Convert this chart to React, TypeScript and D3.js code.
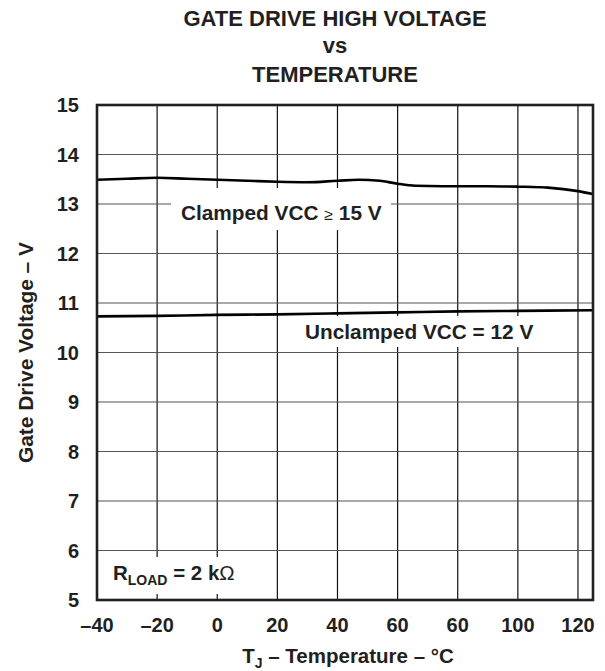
import * as d3 from "d3";
import React from "react";

// temperature (°C) and gate drive voltage (V)
const clampedTemp = [-40, -30, -20, -10, 0, 10, 20, 30, 40, 47, 54, 60, 66, 75, 90, 100, 110, 120, 125];
const clampedVolt = [13.49, 13.51, 13.53, 13.51, 13.49, 13.47, 13.45, 13.44, 13.47, 13.49, 13.47, 13.41, 13.37, 13.36, 13.36, 13.35, 13.33, 13.26, 13.2];

const unclampedTemp = [-40, -20, 0, 20, 40, 60, 80, 100, 125];
const unclampedVolt = [10.73, 10.74, 10.76, 10.77, 10.79, 10.81, 10.83, 10.84, 10.855];

const xTicks = [-40, -20, 0, 20, 40, 60, 80, 100, 120];
const xTickLabels = ["\u201340", "\u201320", "0", "20", "40", "60", "60", "100", "120"];
const yTicks = [5, 6, 7, 8, 9, 10, 11, 12, 13, 14, 15];

const W = 605;
const H = 671;
const left = 97;
const right = 593;
const top = 105;
const bottom = 600;
const FONT = "'Liberation Sans', Arial, Helvetica, sans-serif";

export default function App() {
  const x = d3.scaleLinear().domain([-40, 125]).range([left, right]);
  const y = d3.scaleLinear().domain([5, 15]).range([bottom, top]);

  const line = d3
    .line<[number, number]>()
    .x((d) => x(d[0]))
    .y((d) => y(d[1]))
    .curve(d3.curveMonotoneX);

  const clamped = clampedTemp.map((t, i) => [t, clampedVolt[i]] as [number, number]);
  const unclamped = unclampedTemp.map((t, i) => [t, unclampedVolt[i]] as [number, number]);

  return (
    <svg
      width={W}
      height={H}
      style={{ position: "absolute", left: 0, top: 0, background: "#fff" }}
      fontFamily={FONT}
      fontWeight="bold"
      fill="#231f20"
    >
      {/* title */}
      <g textAnchor="middle" fontSize={22}>
        <text x={335} y={26}>GATE DRIVE HIGH VOLTAGE</text>
        <text x={335} y={53}>vs</text>
        <text x={335} y={82}>TEMPERATURE</text>
      </g>

      {/* grid */}
      {xTicks.map((t) => (
        <line key={"vx" + t} x1={x(t)} x2={x(t)} y1={top} y2={bottom} stroke="#111" strokeWidth={1.2} />
      ))}
      {yTicks.map((v) => (
        <line key={"hy" + v} x1={left} x2={right} y1={y(v)} y2={y(v)} stroke="#555" strokeWidth={1.2} />
      ))}

      {/* label backgrounds hide the grid behind the text */}
      <rect x={171} y={188} width={220} height={42} fill="#fff" />
      <rect x={282} y={316} width={262} height={31} fill="#fff" />
      <rect x={104} y={557} width={140} height={37} fill="#fff" />

      {/* curves */}
      <path d={line(clamped) ?? ""} fill="none" stroke="#000" strokeWidth={2.6} />
      <path d={line(unclamped) ?? ""} fill="none" stroke="#000" strokeWidth={2.6} />

      {/* frame */}
      <rect x={left} y={top} width={right - left} height={bottom - top} fill="none" stroke="#231f20" strokeWidth={2.6} />

      {/* annotations */}
      <text x={181} y={220} fontSize={20.8}>
        Clamped VCC <tspan fontWeight="normal" fontSize={16}>≥</tspan> 15 V
      </text>
      <text x={305} y={339} fontSize={20.8}>Unclamped VCC = 12 V</text>
      <text x={113} y={580} fontSize={20.5}>
        R<tspan fontSize={14} dy={5}>LOAD</tspan>
        <tspan dy={-5}> = 2 k</tspan>
        <tspan fontWeight="normal">Ω</tspan>
      </text>

      {/* x tick labels */}
      <g textAnchor="middle" fontSize={20}>
        {xTicks.map((t, i) => (
          <text key={"xl" + t} x={x(t)} y={632}>{xTickLabels[i]}</text>
        ))}
      </g>

      {/* y tick labels */}
      <g textAnchor="end" fontSize={20}>
        {yTicks.map((v) => (
          <text key={"yl" + v} x={79} y={y(v) + 7}>{v}</text>
        ))}
      </g>

      {/* axis titles */}
      <text x={348} y={663} textAnchor="middle" fontSize={20.5}>
        T<tspan fontSize={14} dy={5}>J</tspan>
        <tspan dy={-5}> – Temperature – °C</tspan>
      </text>
      <text
        transform={`translate(33, ${(top + bottom) / 2}) rotate(-90)`}
        textAnchor="middle"
        fontSize={21}
        textLength={221}
        lengthAdjust="spacing"
      >
        Gate Drive Voltage – V
      </text>
    </svg>
  );
}
